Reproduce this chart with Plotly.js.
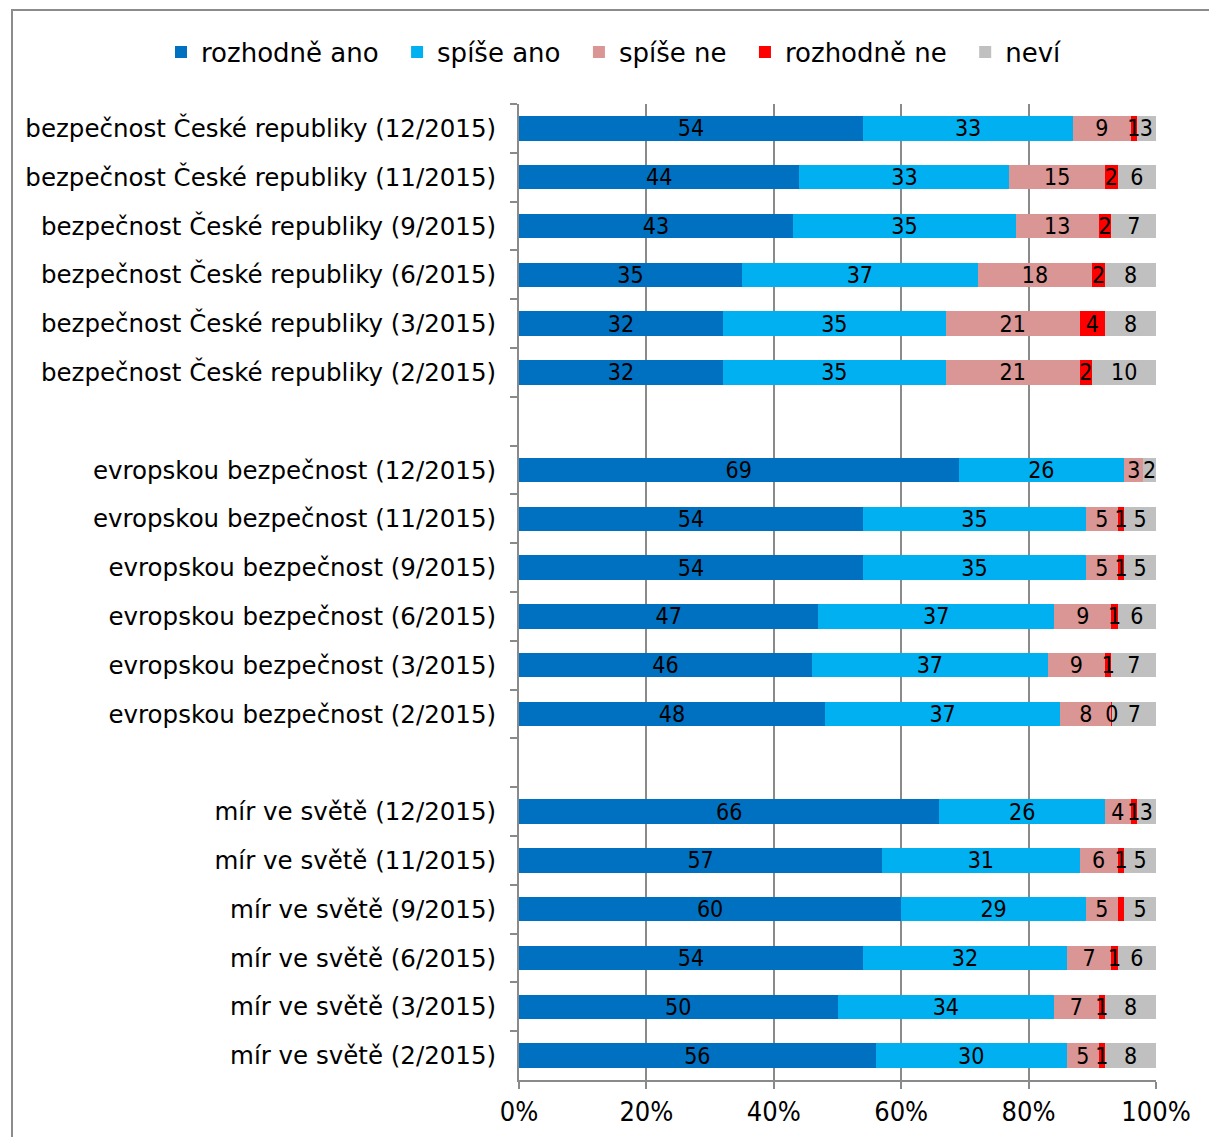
<!DOCTYPE html>
<html>
<head>
<meta charset="utf-8">
<script src="https://cdn.plot.ly/plotly-3.0.1.min.js"></script>
<style>html,body{margin:0;padding:0;background:#fff;}#chart{width:1209px;height:1137px;}</style>
</head>
<body>
<div id="chart"></div>
<script>
const categories = [
  "bezpečnost České republiky (12/2015)",
  "bezpečnost České republiky (11/2015)",
  "bezpečnost České republiky (9/2015)",
  "bezpečnost České republiky (6/2015)",
  "bezpečnost České republiky (3/2015)",
  "bezpečnost České republiky (2/2015)",
  " ",
  "evropskou bezpečnost (12/2015)",
  "evropskou bezpečnost (11/2015)",
  "evropskou bezpečnost (9/2015)",
  "evropskou bezpečnost (6/2015)",
  "evropskou bezpečnost (3/2015)",
  "evropskou bezpečnost (2/2015)",
  "  ",
  "mír ve světě (12/2015)",
  "mír ve světě (11/2015)",
  "mír ve světě (9/2015)",
  "mír ve světě (6/2015)",
  "mír ve světě (3/2015)",
  "mír ve světě (2/2015)"
];
const seriesNames = ["rozhodně ano", "spíše ano", "spíše ne", "rozhodně ne", "neví"];
const rozhodneAno = [54,44,43,35,32,32,null,69,54,54,47,46,48,null,66,57,60,54,50,56];
const spiseAno    = [33,33,35,37,35,35,null,26,35,35,37,37,37,null,26,31,29,32,34,30];
const spiseNe     = [9,15,13,18,21,21,null,3,5,5,9,9,8,null,4,6,5,7,7,5];
const rozhodneNe  = [1,2,2,2,4,2,null,0,1,1,1,1,0.1,null,1,1,1,1,1,1];
const nevi        = [3,6,7,8,8,10,null,2,5,5,6,7,7,null,3,5,5,6,8,8];
// labels shown on the bars (some tiny segments are unlabeled in the original)
const rozhodneNeLabels = ["1","2","2","2","4","2","","","1","1","1","1","0","","1","1","","1","1","1"];
const xTickVals = [0,20,40,60,80,100];
const xTickText = ["0%","20%","40%","60%","80%","100%"];

const colors = ["#0070C0", "#00B0F0", "#D99694", "#FF0000", "#C0C0C0"];
const allSeries = [rozhodneAno, spiseAno, spiseNe, rozhodneNe, nevi];

const numFont = {family: "DejaVu Sans Condensed, Liberation Sans Narrow, sans-serif", size: 23, color: "#000"};
const legendPad = "\u00a0\u2009";

// coloured bars (no text)
const barTraces = allSeries.map((vals, i) => ({
  type: "bar",
  orientation: "h",
  name: seriesNames[i] + (i < seriesNames.length - 1 ? legendPad : ""),
  y: categories,
  x: vals,
  xaxis: "x", yaxis: "y",
  textposition: "none",
  marker: {color: colors[i], line: {width: 0}},
  hoverinfo: "skip"
}));

// same stacks on an overlaid axis, transparent, carrying the labels so they sit on top
const labelTraces = allSeries.map((vals, i) => ({
  type: "bar",
  orientation: "h",
  name: seriesNames[i] + " labels",
  showlegend: false,
  y: categories,
  x: vals,
  xaxis: "x2", yaxis: "y",
  text: i === 3 ? rozhodneNeLabels : vals.map(v => v === null ? "" : String(v)),
  textposition: "inside",
  insidetextanchor: "middle",
  textangle: 0,
  constraintext: "none",
  textfont: numFont,
  insidetextfont: numFont,
  marker: {color: "rgba(0,0,0,0)", line: {width: 0}},
  hoverinfo: "skip"
}));

const layout = {
  width: 1209,
  height: 1137,
  barmode: "stack",
  bargap: 0.5,
  paper_bgcolor: "#fff",
  plot_bgcolor: "#fff",
  margin: {l: 519, r: 53, t: 104, b: 57, pad: 0},
  uniformtext: {mode: "show", minsize: 23},
  showlegend: true,
  legend: {
    orientation: "h",
    xref: "paper", yref: "paper",
    x: (161 - 519) / 637, xanchor: "left",
    y: (1080 - 52) / 976, yanchor: "middle",
    font: {family: "DejaVu Sans, Verdana, sans-serif", size: 26, color: "#000"},
    traceorder: "normal",
    itemclick: false
  },
  xaxis: {
    range: [0, 100],
    tickvals: xTickVals,
    ticktext: xTickText,
    showgrid: true,
    gridcolor: "#8a8a8a",
    gridwidth: 2,
    zeroline: false,
    showline: true,
    linecolor: "#8a8a8a",
    linewidth: 2,
    ticks: "outside",
    ticklen: 7,
    tickwidth: 2,
    tickcolor: "#8a8a8a",
    tickfont: {family: "DejaVu Sans Condensed, Liberation Sans Narrow, sans-serif", size: 27, color: "#000"},
    fixedrange: true
  },
  xaxis2: {
    overlaying: "x",
    range: [0, 100],
    visible: false,
    showgrid: false,
    zeroline: false,
    fixedrange: true
  },
  yaxis: {
    type: "category",
    categoryorder: "array",
    categoryarray: categories,
    autorange: "reversed",
    tickson: "boundaries",
    ticks: "outside",
    ticklen: 7,
    tickwidth: 2,
    tickcolor: "#8a8a8a",
    showline: true,
    linecolor: "#8a8a8a",
    linewidth: 2,
    showgrid: false,
    ticklabelstandoff: 16,
    tickfont: {family: "DejaVu Sans, Verdana, sans-serif", size: 24.5, color: "#000"},
    fixedrange: true
  },
  shapes: [{
    type: "rect", xref: "paper", yref: "paper",
    x0: (12 - 519) / 637, x1: (1230 - 519) / 637,
    y0: (1080 - 1160) / 976, y1: (1080 - 10) / 976,
    line: {color: "#8c8c8c", width: 2},
    fillcolor: "rgba(0,0,0,0)",
    layer: "below"
  }]
};

Plotly.newPlot("chart", barTraces.concat(labelTraces), layout, {displayModeBar: false, staticPlot: true});
</script>
</body>
</html>
